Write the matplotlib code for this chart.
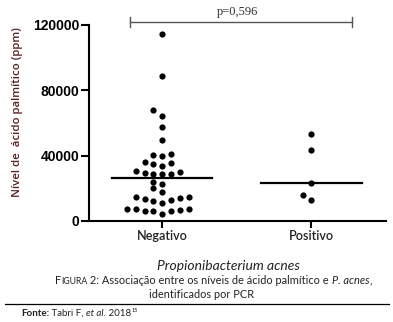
import matplotlib
matplotlib.use("Agg")
import matplotlib.pyplot as plt
import numpy as np
from matplotlib.lines import Line2D

# values (ppm of palmitic acid)
groups = ["Negativo", "Positivo"]
negativo = [114700, 88800, 67800, 64300, 57700, 49600,
            41000, 40000, 40400,
            35700, 33700, 36100, 34900,
            29000, 28800, 30200, 30800, 29200, 28800,
            22400, 23900, 20000, 17800,
            14500, 13500, 12200, 10800, 12700, 14100, 14500,
            7500, 6500, 6100, 4100, 5900, 6300, 7200, 7500]
positivo = [53300, 43300, 23100, 15900, 12700]
yticks = [0, 40000, 80000, 120000]
p_label = "p=0,596"

W, H = 393, 322
DOT_COLOR = "#000000"
LABEL_RED = "#5a1f1f"


def swarm_offsets(values, px_per_unit, slot, diam):
    """Greedy beeswarm: each point takes the nearest free column slot."""
    placed = []
    offsets = np.zeros(len(values))
    order = np.argsort(values)
    for i in order:
        y = values[i] * px_per_unit
        k = 0
        while True:
            for cand in ([0] if k == 0 else [-k, k]):
                if all(not (s == cand and abs(py - y) < diam) for s, py in placed):
                    placed.append((cand, y))
                    offsets[i] = cand * slot
                    break
            else:
                k += 1
                continue
            break
    return offsets


fig = plt.figure(figsize=(W / 100, H / 100), dpi=100)
ax = fig.add_axes([89 / W, 1 - 221 / H, 297 / W, 196 / H])
ax.set_xlim(-0.49, 1.50)
ax.set_ylim(0, 120000)

px_per_val = 196 / 120000
slot = 8.8 / 149
for pos, vals in enumerate([negativo, positivo]):
    vals = np.asarray(vals, dtype=float)
    xs = pos + swarm_offsets(vals, px_per_val, slot, 6.3)
    ax.scatter(xs, vals, s=20, color=DOT_COLOR, linewidths=0, zorder=3, clip_on=False)
    med = np.median(vals)
    ax.plot([pos - 0.336, pos + 0.336], [med, med], color="black", lw=1.6, zorder=2)

for side in ("top", "right"):
    ax.spines[side].set_visible(False)
for side in ("left", "bottom"):
    ax.spines[side].set_linewidth(1.5)

ax.set_yticks(yticks)
ax.set_yticklabels([str(v) for v in yticks], fontfamily="Liberation Sans",
                   fontweight="bold", fontsize=10)
ax.tick_params(axis="y", length=6, width=1.5, pad=1)
ax.set_xticks([0, 1])
ax.set_xticklabels(groups, fontfamily="Lato", fontweight="semibold", fontsize=9,
                   color="#222222")
ax.tick_params(axis="x", length=5, width=1.5, pad=1.5)

ax.set_ylabel("Nível de  ácido palmítico (ppm)", fontfamily="Open Sans",
              fontweight="semibold", fontsize=8.2, color=LABEL_RED)
ax.yaxis.set_label_coords(-0.222, 0.556)
ax.set_xlabel("Propionibacterium acnes", fontfamily="Lato", style="italic",
              fontsize=10, color="#222222")
ax.xaxis.set_label_coords(0.471, -0.199)

# significance bracket
br_y = 121800
ax.plot([-0.215, 1.275], [br_y, br_y], color="#555555", lw=1.0, clip_on=False)
for bx in (-0.215, 1.275):
    ax.plot([bx, bx], [br_y - 3000, br_y + 3000], color="#555555", lw=1.0, clip_on=False)
ax.text(0.503, 127800, p_label, ha="center", va="center", fontfamily="Liberation Serif",
        fontsize=9, color="#333333", clip_on=False)

# caption below the chart
renderer = fig.canvas.get_renderer()


def chain(parts, x_px, y_px):
    x = x_px
    for txt, kw in parts:
        t = fig.text(x / W, 1 - y_px / H, txt, va="baseline", ha="left", **kw)
        x += t.get_window_extent(renderer).width
    return x


cap = dict(fontfamily="Lato", color="#222222")
chain([("F", dict(fontsize=7.9, **cap)),
       ("IGURA", dict(fontsize=6.2, **cap)),
       (" 2: Associação entre os níveis de ácido palmítico e ", dict(fontsize=7.9, **cap)),
       ("P. acnes", dict(fontsize=7.9, style="italic", **cap)),
       (",", dict(fontsize=7.9, **cap))], 55, 284)
fig.text(202 / W, 1 - 294.5 / H, "identificados por PCR", ha="center", va="center",
         fontsize=7.9, **cap)

fig.add_artist(Line2D([5 / W, 389 / W], [1 - 304 / H, 1 - 304 / H],
                      color="black", lw=0.9, transform=fig.transFigure))

src = dict(fontfamily="Lato", color="#222222", fontsize=7)
end = chain([("Fonte:", dict(fontweight="bold", **src)),
             (" Tabri F, ", src),
             ("et al.", dict(style="italic", **src)),
             (" 2018", src)], 21, 315.5)
fig.text(end / W, 1 - 312 / H, "15", va="baseline", ha="left", fontfamily="Lato",
         fontsize=4, color="#222222")

fig.savefig("out.png", dpi=100)
